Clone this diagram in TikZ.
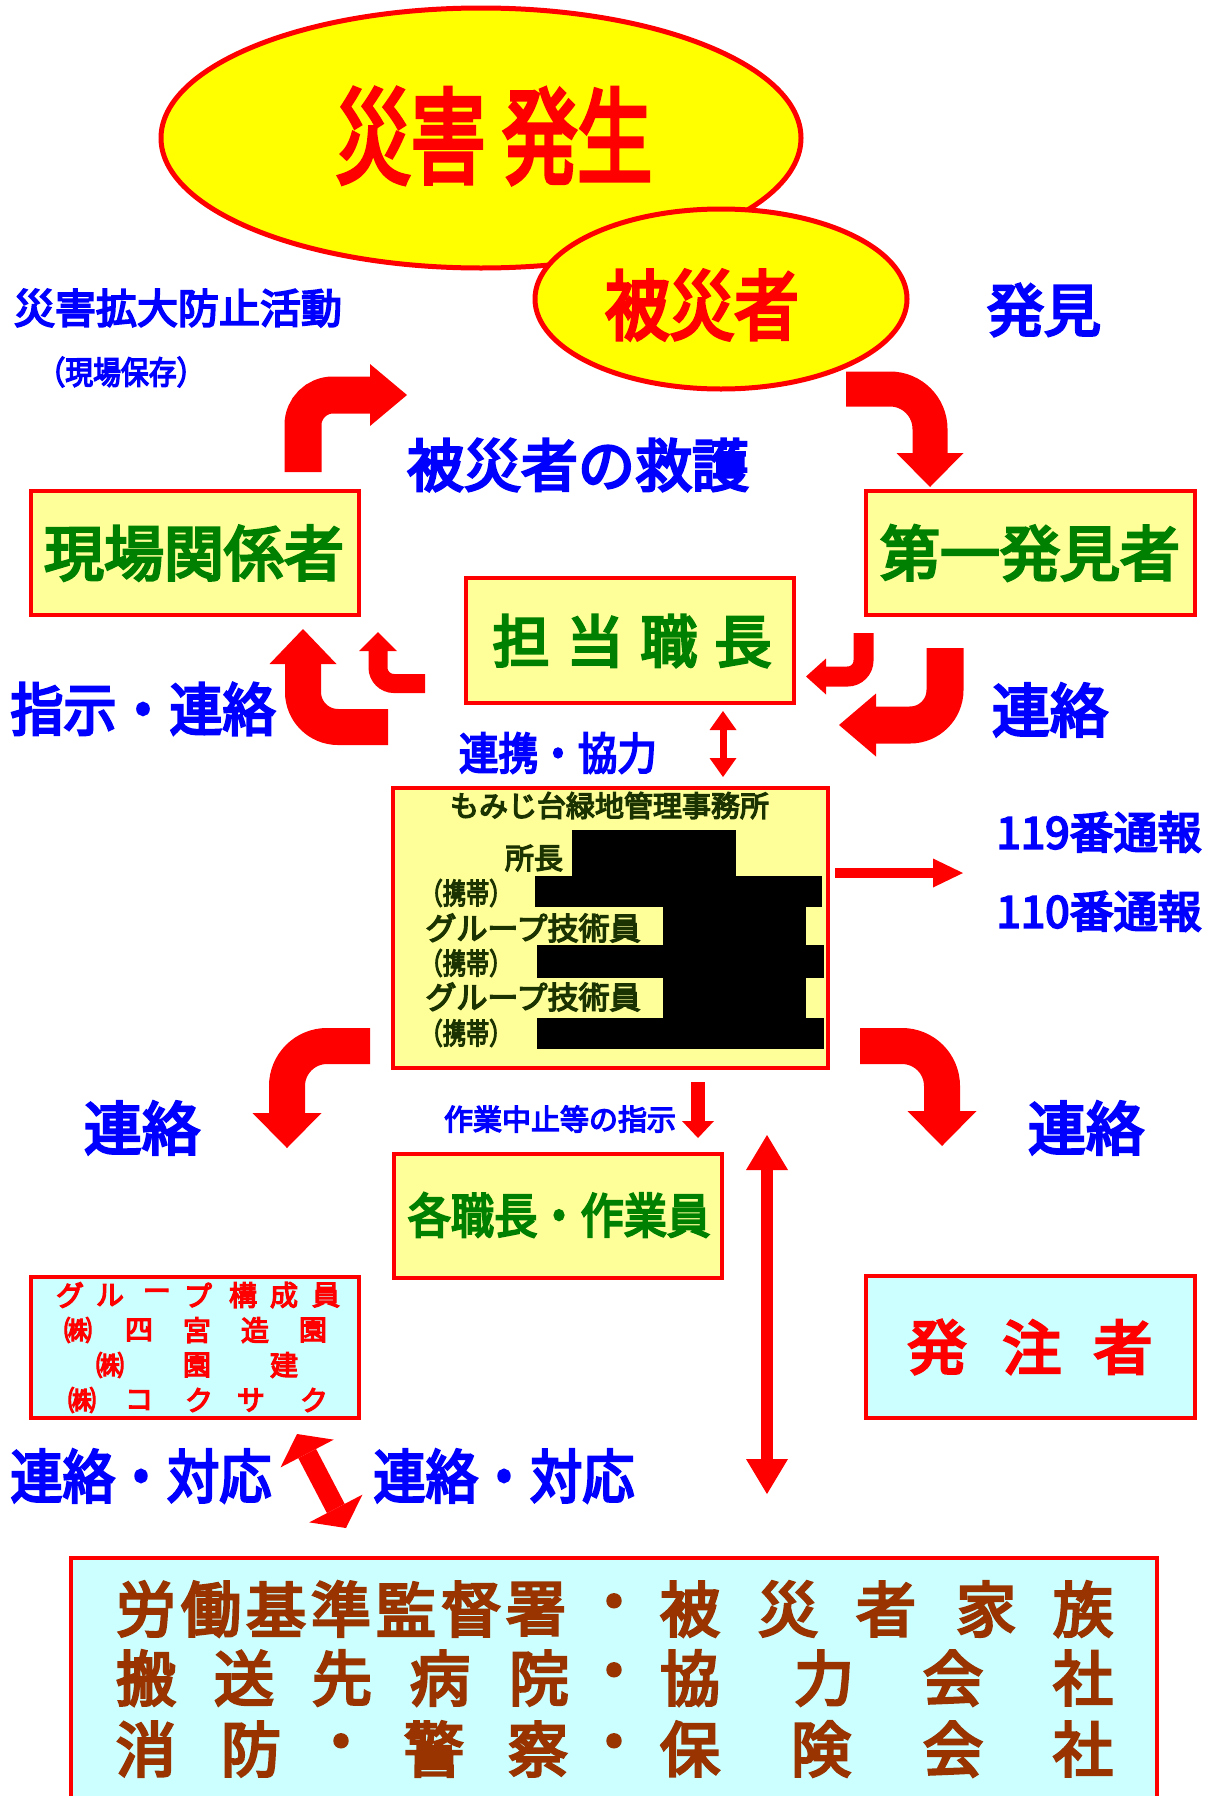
\documentclass[tikz,border=0pt]{standalone}
\usepackage{fontspec}
\newfontfamily\jp{Noto Sans CJK JP}[FakeBold=4.5]
\usetikzlibrary{arrows.meta,shapes.geometric}
\definecolor{cred}{HTML}{FF0000}
\definecolor{cyel}{HTML}{FFFF00}
\definecolor{cbox}{HTML}{FFFF99}
\definecolor{ccyan}{HTML}{CCFFFF}
\definecolor{cblue}{HTML}{0000FF}
\definecolor{cgreen}{HTML}{008000}
\definecolor{cdark}{HTML}{1A3300}
\definecolor{cbrown}{HTML}{993300}
\newcommand\myfs[1]{\fontsize{#1}{#1}\selectfont}
\tikzset{
  txt/.style={inner sep=0pt, font=\jp},
  stxt/.style={inner sep=0pt, font=\jp},
  ell/.style={ellipse, draw=cred, line width=5pt, fill=cyel, inner sep=0pt},
  ybox/.style={draw=cred, line width=4pt, fill=cbox, inner sep=0pt},
  cbx/.style={draw=cred, line width=4pt, fill=ccyan, inner sep=0pt},
  barrow/.style n args={4}{draw=cred, line width=#1pt, rounded corners=#4pt,
    arrows={-Triangle[length=#3pt, width=#2pt, line width=0pt]}},
  sarrow/.style n args={3}{draw=cred, line width=#1pt,
    arrows={-Triangle[length=#3pt, width=#2pt, line width=0pt]}},
  darrow/.style n args={3}{draw=cred, line width=#1pt,
    arrows={Triangle[length=#3pt, width=#2pt, line width=0pt]-Triangle[length=#3pt, width=#2pt, line width=0pt]}},
}
\begin{document}
\begin{tikzpicture}[x=1pt,y=-1pt]
\useasboundingbox (0,0) rectangle (1223,1796);
\clip (0,0) rectangle (1223,1796);
\fill[white] (0,0) rectangle (1223,1796);

% ellipses
\node[ell, minimum width=640pt, minimum height=260pt] (hassei) at (481,138) {};
\node[txt, text=cred] (hasseiT) at (494,136) {\scalebox{0.72}[1]{\myfs{104}災害 発生}};
\node[ell, minimum width=372pt, minimum height=180pt] (hisai) at (721,299) {};
\node[txt, text=cred] (hisaiT) at (702,305) {\scalebox{0.85}[1]{\myfs{76}被災者}};

% top labels
\node[txt, text=cblue] (kakudai) at (178,308) {\myfs{41}災害拡大防止活動};
\node[stxt, text=cblue] (hozon) at (121,372) {\scalebox{0.87}[1]{\myfs{32}（現場保存）}};
\node[txt, text=cblue] (hakken) at (1044,310) {\myfs{57}発見};
\node[txt, text=cblue] (kyugo) at (578,465) {\myfs{57}被災者の救護};

% boxes row 1
\node[ybox, minimum width=328pt, minimum height=124pt] (genba) at (195,553) {};
\node[txt, text=cgreen] (genbaT) at (194,553) {\myfs{60}現場関係者};
\node[ybox, minimum width=329pt, minimum height=124pt] (daiichi) at (1030.5,553) {};
\node[txt, text=cgreen] (daiichiT) at (1030,553) {\myfs{60}第一発見者};
\node[ybox, minimum width=328pt, minimum height=125pt] (tanto) at (630,640) {};
\node[txt, text=cgreen] (tantoT) at (632,641) {\myfs{57}\makebox[74pt]{担}\makebox[74pt]{当}\makebox[74pt]{職}\makebox[74pt]{長}};

\node[txt, text=cblue] (shiji) at (143,709) {\scalebox{0.93}[1]{\myfs{57}指示・連絡}};
\node[txt, text=cblue] (renraku1) at (1050,710) {\myfs{58}連絡};
\node[txt, text=cblue] (renkei) at (558,753) {\scalebox{0.9}[1]{\myfs{44}連携・協力}};

% office box
\node[ybox, minimum width=435pt, minimum height=280pt] (office) at (610.5,928) {};
\fill[black] (572,830) rectangle (736,876);
\fill[black] (535,876) rectangle (822,907);
\fill[black] (663,907) rectangle (806,945);
\fill[black] (537,945) rectangle (824,978);
\fill[black] (663,978) rectangle (806,1018);
\fill[black] (537,1018) rectangle (824,1049);
\node[stxt, text=cdark] (officeT) at (609.5,805.5) {\myfs{29}もみじ台緑地管理事務所};
\node[stxt, text=cdark] (shocho) at (534,858) {\myfs{29}所長};
\node[stxt, text=cdark] (keitai1) at (466,893) {\scalebox{0.8}[1]{\myfs{29}（携帯）}};
\node[stxt, text=cdark] (gijutsu1) at (533,928) {\myfs{31}グループ技術員};
\node[stxt, text=cdark] (keitai2) at (466,963) {\scalebox{0.8}[1]{\myfs{29}（携帯）}};
\node[stxt, text=cdark] (gijutsu2) at (533,997) {\myfs{31}グループ技術員};
\node[stxt, text=cdark] (keitai3) at (466,1033) {\scalebox{0.8}[1]{\myfs{29}（携帯）}};

\node[txt, text=cblue] (t119) at (1099,832) {\myfs{44}119番通報};
\node[txt, text=cblue] (t110) at (1099,911) {\myfs{44}110番通報};

\node[txt, text=cblue] (renraku2) at (142,1128) {\myfs{58}連絡};
\node[txt, text=cblue] (renraku3) at (1086,1128) {\myfs{58}連絡};
\node[stxt, text=cblue] (chushi) at (560,1119) {\myfs{29}作業中止等の指示};

\node[ybox, minimum width=328pt, minimum height=124pt] (kaku) at (558,1216) {};
\node[txt, text=cgreen] (kakuT) at (559,1215) {\scalebox{0.9}[1]{\myfs{48}各職長・作業員}};

% group box
\node[cbx, minimum width=328pt, minimum height=141pt] (group) at (195,1347.5) {};
\foreach \c/\x [count=\i] in {グ/70,ル/110,ー/157,プ/198,構/243,成/284,員/326}
  \node[stxt, text=cred] (ga\i) at (\x,1295) {\myfs{28}\c};
\foreach \c/\x [count=\i] in {㈱/78,四/139,宮/197,造/255,園/313}
  \node[stxt, text=cred] (gb\i) at (\x,1330) {\myfs{28}\c};
\foreach \c/\x [count=\i] in {㈱/110,園/197,建/284}
  \node[stxt, text=cred] (gc\i) at (\x,1365) {\myfs{28}\c};
\foreach \c/\x [count=\i] in {㈱/82,コ/139,ク/199,サ/251,ク/314}
  \node[stxt, text=cred] (gd\i) at (\x,1400) {\myfs{28}\c};

% orderer box
\node[cbx, minimum width=329pt, minimum height=142pt] (hatchu) at (1030.5,1347) {};
\foreach \c/\x [count=\i] in {発/937,注/1032,者/1123}
  \node[txt, text=cred] (ha\i) at (\x,1347) {\myfs{59}\c};

\node[txt, text=cblue] (taio1) at (141,1476) {\scalebox{0.9}[1]{\myfs{58}連絡・対応}};
\node[txt, text=cblue] (taio2) at (504,1476) {\scalebox{0.9}[1]{\myfs{58}連絡・対応}};

% bottom box
\node[cbx, minimum width=1086pt, minimum height=280pt, anchor=north west] (kankei) at (69,1556) {};
\foreach \c/\x [count=\i] in {労/146,働/211,基/276,準/341,監/406,督/471,署/536,・/614,被/690,災/788,者/886,家/986,族/1083}
  \node[txt, text=cbrown] (la\i) at (\x,1609) {\myfs{60}\c};
\foreach \c/\x [count=\i] in {搬/146,送/244,先/342,病/440,院/539,・/614,協/690,力/824,会/953,社/1083}
  \node[txt, text=cbrown] (lb\i) at (\x,1678) {\myfs{60}\c};
\foreach \c/\x [count=\i] in {消/146,防/251,・/341,警/434,察/538,・/614,保/690,険/821,会/953,社/1083}
  \node[txt, text=cbrown] (lc\i) at (\x,1749) {\myfs{60}\c};

% bent arrows
\coordinate (a1s) at (303,472); \coordinate (a1c) at (303,395); \coordinate (a1e) at (407,395);
\draw[barrow={37}{62}{37}{30}] (a1s) -- (a1c) -- (a1e);
\coordinate (a2s) at (846,389); \coordinate (a2c) at (930,389); \coordinate (a2e) at (930,487);
\draw[barrow={35}{67}{34}{40}] (a2s) -- (a2c) -- (a2e);
\coordinate (a3s) at (388,727); \coordinate (a3c) at (303,727); \coordinate (a3e) at (303,629);
\draw[barrow={36}{67}{35}{35}] (a3s) -- (a3c) -- (a3e);
\coordinate (a4s) at (425,683.5); \coordinate (a4c) at (378,683.5); \coordinate (a4e) at (378,632);
\draw[barrow={19}{38}{19}{16}] (a4s) -- (a4c) -- (a4e);
\coordinate (a5s) at (863.5,633); \coordinate (a5c) at (863.5,676.5); \coordinate (a5e) at (806,676.5);
\draw[barrow={20}{36}{20}{16}] (a5s) -- (a5c) -- (a5e);
\coordinate (a6s) at (945,648); \coordinate (a6c) at (945,725); \coordinate (a6e) at (839,725);
\draw[barrow={37}{63}{37}{35}] (a6s) -- (a6c) -- (a6e);
\coordinate (a7s) at (370,1046); \coordinate (a7c) at (287,1046); \coordinate (a7e) at (287,1148);
\draw[barrow={36}{69}{35}{40}] (a7s) -- (a7c) -- (a7e);
\coordinate (a8s) at (860,1046); \coordinate (a8c) at (942,1046); \coordinate (a8e) at (942,1146);
\draw[barrow={36}{69}{35}{40}] (a8s) -- (a8c) -- (a8e);

% straight arrows
\coordinate (b1e) at (963,873);
\draw[sarrow={10}{29}{30}] (office.east |- b1e) ++(5,0) -- (b1e);
\coordinate (b2s) at (723,711); \coordinate (b2e) at (723,777);
\draw[darrow={7}{27}{19}] (b2s) -- (b2e);
\coordinate (b3s) at (698,1082); \coordinate (b3e) at (698,1138);
\draw[sarrow={14}{32}{17}] (b3s) -- (b3e);
\coordinate (b4s) at (767,1135); \coordinate (b4e) at (767,1494);
\draw[darrow={12}{42}{35}] (b4s) -- (b4e);
\coordinate (b5s) at (297,1434); \coordinate (b5e) at (346,1528);
\draw[darrow={20}{60}{22}] (b5s) -- (b5e);
\end{tikzpicture}
\end{document}
